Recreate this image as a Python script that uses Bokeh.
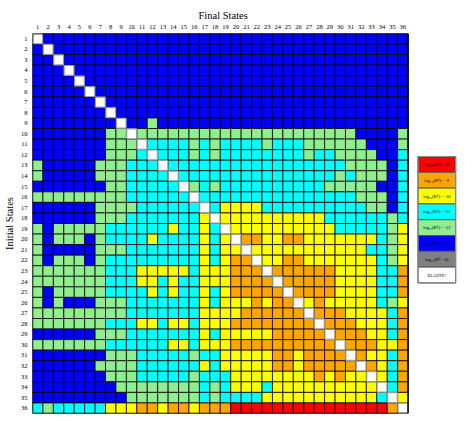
import math
from bokeh.plotting import figure
from bokeh.models import Range1d, FixedTicker, ColumnDataSource
from bokeh.core.properties import value
from bokeh.embed import file_html
from bokeh.resources import INLINE

# ---- data -------------------------------------------------------------
states = list(range(1, 37))

# one string per initial state (row), one letter per final state (column)
# R:-8  O:-9  Y:-10  C:-11  G:-12  B:-13  E: elastic
rows = [
    "EBBBBB BBBBBB BBBBBB BBBBBB BBBBBB BBBBBB",
    "BEBBBB BBBBBB BBBBBB BBBBBB BBBBBB BBBBBB",
    "BBEBBB BBBBBB BBBBBB BBBBBB BBBBBB BBBBBB",
    "BBBEBB BBBBBB BBBBBB BBBBBB BBBBBB BBBBBB",
    "BBBBEB BBBBBB BBBBBB BBBBBB BBBBBB BBBBBB",
    "BBBBBE BBBBBB BBBBBB BBBBBB BBBBBB BBBBBB",
    "BBBBBB EBBBBB BBBBBB BBBBBB BBBBBB BBBBBB",
    "BBBBBB BEBBBB BBBBBB BBBBBB BBBBBB BBBBBB",
    "BBBBBB BBEBBG BBBBBB BBBBBB BBBBBB BBBBBB",
    "BBBBBB BGGEGG GGGGGG GGGGGG GGGGGG GBBBBG",
    "BBBBBB BGGGEC CCCGCG CCCCGC CCGGGG GGBBBG",
    "BBBBBB BGGGCE CCCGCG CCCCCC CCGCCG GGGBBC",
    "GBBBBB GGGCCC ECCCCC CCCCCC CCCCCC GGGGBC",
    "GBBBBB GGGCCC CECCCC CCCCCC CCCCCG CGGGBC",
    "BBBBBB BGGCCC CCEGCG CCCCCC CCCCGG GGGBBC",
    "GGGGGG GGGCCC CCCECC CCCCCC CCCCCC CGGGBC",
    "BBBBBB GGGGCC CCCCEC YYYYCC CCCCCC CCGGBC",
    "BBBBBB GGGCCC CCCCYE YYYYYY YYYYCC CCCCGC",
    "GBGGGG GCCCCC CYCCYC EYYYYY YYYYYC CCCCGY",
    "GBGGGB GCCCCY CCCCYC YEOOYY OOYYYY YYYCGY",
    "GBBBBB GGGCCC CCCCYC YYEYYY YYYYYY YYCCGY",
    "GBGGGB GCCCCC CCCCYC YOOEYY OOYYYY YYYCGY",
    "GGGGGG GCCCYY YYYCYY YOOOEO OOOOOY YYYCCO",
    "GGGGGG GCCCYY CYCCYY YOOOOE OOOOOY YYYCCO",
    "GBGGGG GCCCCY CYCCYC YOOOOO EOOOOY YYYCCO",
    "GBGBBB GGGCCC CCCCYC YYYOYO OEYOYY YYYCGY",
    "GGGGGG GGGCCC CCCCYY YYOOOO OOEOOO YYYYCO",
    "GGGGGG GCCCYY CYYCYY YOOOOO OOOEOO OYYYCO",
    "BBBBBB GGGCCC CCCCYC YYYYYO OOOOEO OOYYCO",
    "GGGGGG GCCCCC CYYCYY YOOOOO OOOOOE OOOYYO",
    "BBBBBB BGGGCC CCCGCC YYYYYO OYOOOO EOYYCO",
    "BBBBBB GGGGCC CCCCYC YYYYYO OYOOOO OEOYCO",
    "BBBBBB BGGGCC CCCGCC CYYYYY YYYOYO YYEYCO",
    "BBBBBB BBGGGG GGGGCG CYYYCY YYYYYY YYYECO",
    "BBBBBB BBBGGG GGGGCG CCCCYY YYYYYY YYYCEY",
    "CGCCCC CYYYOO YOOYOO ORRRRR RRRRRR RRRROE",
]

code_log = {"R": -8, "O": -9, "Y": -10, "C": -11, "G": -12, "B": -13}
level_colors = {-8: "#FF0000", -9: "#FFA500", -10: "#FFFF00", -11: "#00FFFF",
                -12: "#90EE90", -13: "#0000FF", 0: "#808080"}
legend_levels = [-8, -9, -10, -11, -12, -13]
legend_labels = ["log\u2081\u2080(K\u1d48)= \u22128", "log\u2081\u2080(K\u1d48)= \u22129",
                 "log\u2081\u2080(K\u1d48)= \u221210", "log\u2081\u2080(K\u1d48)= \u221211",
                 "log\u2081\u2080(K\u1d48)= \u221212", "log\u2081\u2080(K\u1d48)= \u221213",
                 "log\u2081\u2080(K\u1d48 = 0)", "ELASTIC"]
legend_fill = [level_colors[v] for v in legend_levels] + [level_colors[0], "#FFFFFF"]

# ---- build cell table ------------------------------------------------
xs, ys, cols = [], [], []
ex, ey = [], []
for i, r in enumerate(rows):
    r = r.replace(" ", "")
    for j, ch in enumerate(r[:36]):
        if ch == "E":
            ex.append(states[j]); ey.append(states[i])
        else:
            xs.append(states[j]); ys.append(states[i])
            cols.append(level_colors[code_log[ch]])

cells = ColumnDataSource(dict(x=xs, y=ys, c=cols))
elastic = ColumnDataSource(dict(x=ex, y=ey))

# ---- figure -------------------------------------------------------------
LEFT, TOP = 28, 33
W, H = 472, 414
px_x = 379.0 / 36.0
px_y = 380.0 / 36.0
frame_w = W - LEFT
x_end = 0.5 + frame_w / px_x

p = figure(width=W, height=H, output_backend="svg", toolbar_location=None,
           x_range=Range1d(0.5, x_end), y_range=Range1d(36.5, 0.5),
           x_axis_location="above", min_border_left=LEFT, min_border_top=TOP,
           min_border_right=0, min_border_bottom=1)
p.outline_line_color = None
p.grid.visible = False
p.background_fill_color = "white"
p.border_fill_color = "white"

for ax in (p.xaxis[0], p.yaxis[0]):
    ax.ticker = FixedTicker(ticks=states)
    ax.major_label_text_font = "Liberation Serif"
    ax.major_label_text_font_size = "6.5px"
    ax.major_label_text_color = "#000000"
    ax.major_tick_out = 0
    ax.major_tick_in = 0
    ax.minor_tick_out = 0
    ax.minor_tick_in = 0
    ax.axis_line_color = None
    ax.major_label_standoff = 5

p.yaxis[0].axis_label = "Initial States"
p.yaxis[0].axis_label_text_font = "Liberation Serif"
p.yaxis[0].axis_label_text_font_size = "10.5px"
p.yaxis[0].axis_label_text_font_style = "normal"
p.yaxis[0].axis_label_text_color = "#000000"
p.yaxis[0].axis_label_standoff = 3

p.title.text = "Final States"
p.title.text_font = "Liberation Serif"
p.title.text_font_size = "10.5px"
p.title.text_font_style = "normal"
p.title.text_color = "#000000"
p.title.align = "left"
p.title.offset = 166
p.title.standoff = 1

p.rect("x", "y", width=1, height=1, source=cells, fill_color="c",
       line_color="black", line_width=0.8)
p.rect("x", "y", width=0.94, height=0.94, source=elastic, fill_color="white",
       line_color="#9A9A9A", line_width=1.2)
p.rect(x=[18.5], y=[18.5], width=[36], height=[36], fill_color=None,
       line_color="black", line_width=1.5)

# legend drawn in data space to the right of the matrix
def X(px):
    return 0.5 + (px - 28) / px_x

def Y(px):
    return 0.5 + (px - 33) / px_y

lx0, lx1 = X(417), X(455)
ltop = Y(156)
lh = 15.8 / px_y
leg_y = [ltop + lh * (k + 0.5) for k in range(len(legend_labels))]
leg = ColumnDataSource(dict(x=[(lx0 + lx1) / 2] * len(leg_y), y=leg_y,
                            c=legend_fill, t=legend_labels))
p.rect("x", "y", width=lx1 - lx0, height=lh, source=leg, fill_color="c",
       line_color="#555555", line_width=1)
p.text("x", "y", text="t", source=leg, text_font=value("Liberation Serif"),
       text_font_size="4.5px", text_align="center", text_baseline="middle",
       text_color="black")
p.rect(x=[(lx0 + lx1) / 2], y=[ltop + lh * 4], width=[lx1 - lx0],
       height=[lh * 8], fill_color=None, line_color="#888888", line_width=1.2)

open("out.html", "w").write(file_html(p, INLINE))
